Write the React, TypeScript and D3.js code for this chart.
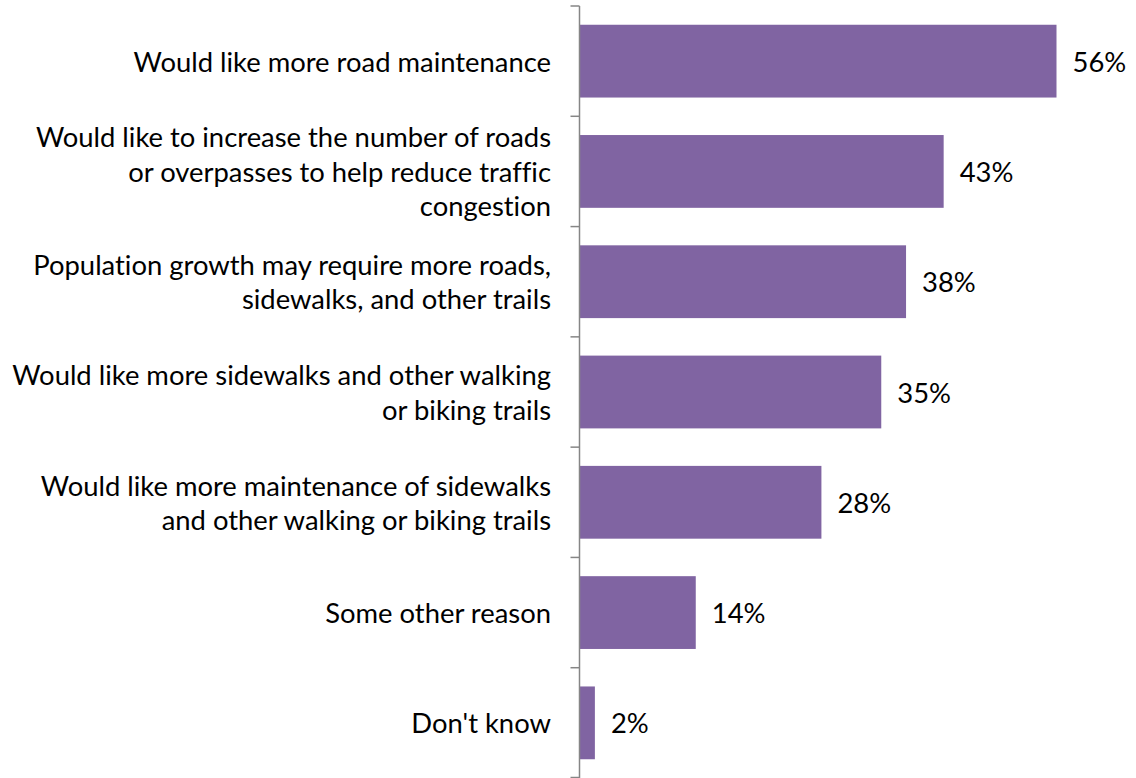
import React from "react";
import * as d3 from "d3";

const categories: string[] = [
  "Would like more road maintenance",
  "Would like to increase the number of roads\nor overpasses to help reduce traffic\ncongestion",
  "Population growth may require more roads,\nsidewalks, and other trails",
  "Would like more sidewalks and other walking\nor biking trails",
  "Would like more maintenance of sidewalks\nand other walking or biking trails",
  "Some other reason",
  "Don't know",
];
const values: number[] = [55.8, 42.6, 38.2, 35.3, 28.3, 13.6, 1.8];
const valueLabels: string[] = ["56%", "43%", "38%", "35%", "28%", "14%", "2%"];

const W = 1136;
const H = 778;
const axisX = 579.5;
const FONT = "Lato, 'Open Sans', sans-serif";
const FS = 27.4;
const LINE_H = 34.5;

export default function App() {
  const y = d3
    .scaleBand<string>()
    .domain(categories)
    .range([6, 778])
    .paddingInner(0.34)
    .paddingOuter(0.17);
  const x = d3.scaleLinear().domain([0, 62]).range([axisX, axisX + 530]);
  const step = y.step();
  const off = step * 0.17;
  const tickYs = categories.map((c) => (y(c) as number) - off).concat([778 - 0.5]);

  return (
    <svg
      width={W}
      height={H}
      style={{
        position: "absolute",
        left: 0,
        top: 0,
        background: "#fff",
        fontVariantLigatures: "none",
      }}
      fontFamily={FONT}
    >
      {categories.map((c, i) => {
        const y0 = y(c) as number;
        const cy = y0 + y.bandwidth() / 2;
        const lines = c.split("\n");
        return (
          <g key={c}>
            <rect
              x={x(0)}
              y={y0}
              width={x(values[i]) - x(0)}
              height={y.bandwidth()}
              fill="#8064A2"
            />
            <text
              x={x(values[i]) + 16}
              y={cy}
              dominantBaseline="central"
              fontSize={FS}
              fill="#000"
            >
              {valueLabels[i]}
            </text>
            <text textAnchor="end" fontSize={FS} fill="#000">
              {lines.map((l, j) => (
                <tspan
                  key={j}
                  x={551}
                  y={cy + (j - (lines.length - 1) / 2) * LINE_H}
                  dominantBaseline="central"
                >
                  {l}
                </tspan>
              ))}
            </text>
          </g>
        );
      })}
      <line x1={axisX} x2={axisX} y1={6} y2={H} stroke="#868686" strokeWidth={1.5} />
      {tickYs.map((ty, i) => (
        <line key={i} x1={axisX - 9} x2={axisX} y1={ty} y2={ty} stroke="#868686" strokeWidth={1.5} />
      ))}
    </svg>
  );
}
